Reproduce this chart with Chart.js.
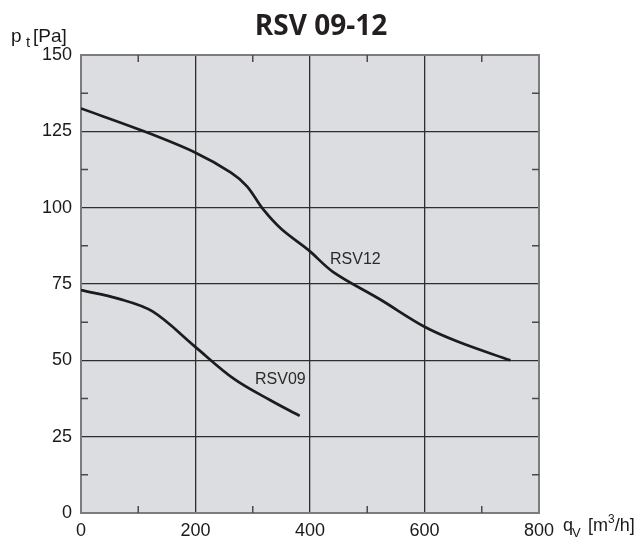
<!DOCTYPE html>
<html>
<head>
<meta charset="utf-8">
<script src="https://cdn.jsdelivr.net/npm/chart.js@4"></script>
<style>
html,body{margin:0;padding:0;background:#fff;}
#wrap{width:641px;height:538px;position:relative;}
</style>
</head>
<body>
<div id="wrap"><canvas id="c" width="641" height="538"></canvas></div>
<script>
// ---- data ----
const rsv12Flow = [0, 110, 200, 262, 290, 318, 350, 398, 440, 522, 600, 660, 750];
const rsv12Pres = [132.5, 125, 118, 111.5, 107, 99.5, 93, 86, 79, 70, 61, 56, 50];
const rsv09Flow = [0, 65, 125, 199, 266, 330, 382];
const rsv09Pres = [73, 70.2, 66, 54.5, 44.1, 37, 31.8];
const xTickLabels = [0, 200, 400, 600, 800];
const yTickLabels = [0, 25, 50, 75, 100, 125, 150];
const seriesNames = ['RSV12', 'RSV09'];
const chartTitle = 'RSV 09-12';

// label anchors (data coordinates)
const labelAnchors = [{x: 435, y: 81.7}, {x: 304, y: 42.3}];

function pts(xs, ys){ return xs.map((x,i)=>({x:x, y:ys[i]})); }

const FONT = "'Liberation Sans', Arial, sans-serif";

const decor = {
  id: 'decor',
  beforeDraw(chart){
    const {ctx, chartArea:a} = chart;
    ctx.save();
    ctx.fillStyle = 'rgb(220,221,224)';
    ctx.fillRect(a.left, a.top, a.right-a.left, a.bottom-a.top);
    ctx.restore();
  },
  beforeDatasetsDraw(chart){
    const {ctx, chartArea:a, scales:{x, y}} = chart;
    ctx.save();
    // frame
    ctx.strokeStyle = '#7c7c7c';
    ctx.lineWidth = 2;
    ctx.strokeRect(a.left, a.top, a.right-a.left, a.bottom-a.top);
    // minor ticks (inward)
    ctx.strokeStyle = '#4a4a4a';
    ctx.lineWidth = 1.5;
    const L = 7;
    ctx.beginPath();
    for (let v = 100; v < 800; v += 200){
      const px = x.getPixelForValue(v);
      ctx.moveTo(px, a.top); ctx.lineTo(px, a.top+L);
      ctx.moveTo(px, a.bottom); ctx.lineTo(px, a.bottom-L);
    }
    for (let v = 12.5; v < 150; v += 25){
      const py = y.getPixelForValue(v);
      ctx.moveTo(a.left, py); ctx.lineTo(a.left+L, py);
      ctx.moveTo(a.right, py); ctx.lineTo(a.right-L, py);
    }
    ctx.stroke();
    ctx.restore();
  },
  afterDraw(chart){
    const {ctx, scales:{x, y}} = chart;
    ctx.save();
    // title
    ctx.fillStyle = '#231f20';
    ctx.font = "bold 28px 'Open Sans', sans-serif";
    ctx.textAlign = 'center';
    ctx.textBaseline = 'alphabetic';
    ctx.fillText(chartTitle, 321, 35);
    // series labels
    ctx.fillStyle = '#2a2a2a';
    ctx.font = "16px " + FONT;
    ctx.textAlign = 'left';
    seriesNames.forEach((n,i)=>{
      ctx.fillText(n, x.getPixelForValue(labelAnchors[i].x), y.getPixelForValue(labelAnchors[i].y));
    });
    // y axis title: p_t [Pa]
    ctx.fillStyle = '#1a1a1a';
    ctx.font = "19px " + FONT;
    ctx.fillText('p', 11, 42);
    ctx.font = "15px " + FONT;
    ctx.fillText('t', 26, 47);
    ctx.font = "19px " + FONT;
    ctx.fillText('[Pa]', 33, 42);
    // x axis title: q_V [m3/h]
    ctx.font = "18px " + FONT;
    ctx.fillText('q', 563, 531);
    ctx.font = "13px " + FONT;
    ctx.fillText('V', 572, 537);
    ctx.font = "18px " + FONT;
    ctx.fillText('[m', 588, 531);
    let w = ctx.measureText('[m').width;
    ctx.font = "12px " + FONT;
    ctx.fillText('3', 588 + w, 523);
    let w3 = ctx.measureText('3').width;
    ctx.font = "18px " + FONT;
    ctx.fillText('/h]', 588 + w + w3, 531);
    ctx.restore();
  }
};

new Chart(document.getElementById('c'), {
  type: 'line',
  data: {
    datasets: [
      {label: seriesNames[0], data: pts(rsv12Flow, rsv12Pres), borderColor: '#1c1c1c', borderWidth: 2.7, pointRadius: 0, tension: 0.35, fill: false},
      {label: seriesNames[1], data: pts(rsv09Flow, rsv09Pres), borderColor: '#1c1c1c', borderWidth: 2.7, pointRadius: 0, tension: 0.35, fill: false}
    ]
  },
  options: {
    responsive: false,
    animation: false,
    devicePixelRatio: 1,
    layout: {padding: {left: 0, top: 55, right: 102, bottom: 0}},
    plugins: {legend: {display: false}, title: {display: false}, tooltip: {enabled: false}},
    scales: {
      x: {
        type: 'linear', min: 0, max: 800,
        afterFit(s){ s.height = 25; },
        afterBuildTicks(s){ s.ticks = xTickLabels.concat([100,300,500,700]).sort((a,b)=>a-b).map(v=>({value:v})); },
        ticks: {
          padding: 7, maxRotation: 0, autoSkip: false,
          color: '#1a1a1a', font: {family: FONT, size: 18},
          callback: v => xTickLabels.includes(v) ? String(v) : ''
        },
        grid: {
          drawTicks: false, lineWidth: 1.3,
          color: c => (c.tick && c.tick.value % 200 === 0 && c.tick.value > 0 && c.tick.value < 800) ? '#2e2e2e' : 'rgba(0,0,0,0)'
        },
        border: {display: false}
      },
      y: {
        type: 'linear', min: 0, max: 150,
        afterFit(s){ s.width = 81; },
        afterBuildTicks(s){ s.ticks = yTickLabels.map(v=>({value:v})); },
        ticks: {
          padding: 9, color: '#1a1a1a', font: {family: FONT, size: 18},
          callback: v => String(v)
        },
        grid: {
          drawTicks: false, lineWidth: 1.3,
          color: c => (c.tick && c.tick.value > 0 && c.tick.value < 150) ? '#2e2e2e' : 'rgba(0,0,0,0)'
        },
        border: {display: false}
      }
    }
  },
  plugins: [decor]
});
</script>
</body>
</html>
